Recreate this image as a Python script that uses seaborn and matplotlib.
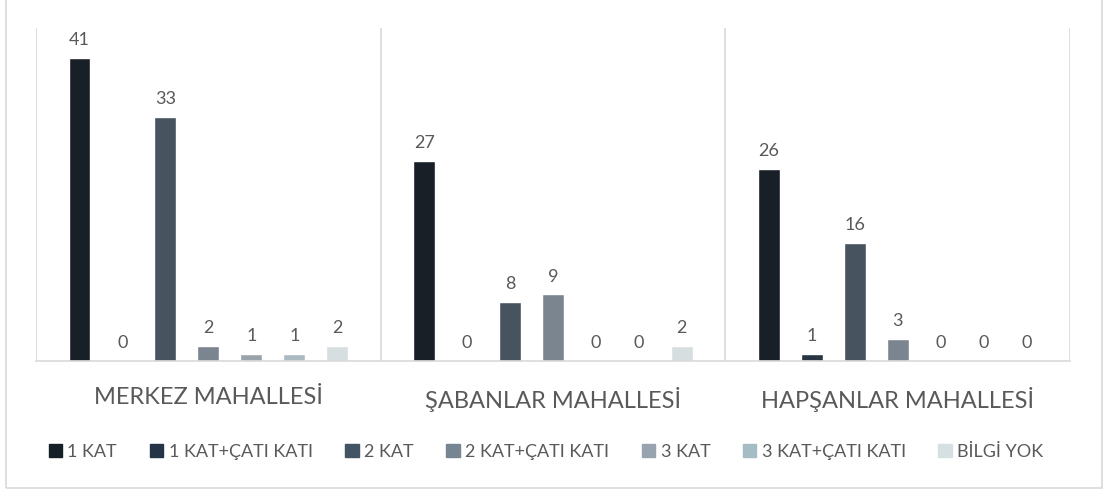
import seaborn as sns
import pandas as pd
import matplotlib.pyplot as plt
from matplotlib.patches import Rectangle

neighbourhoods = ["MERKEZ MAHALLESİ", "ŞABANLAR MAHALLESİ", "HAPŞANLAR MAHALLESİ"]
floor_types = ["1 KAT", "1 KAT+ÇATI KATI", "2 KAT", "2 KAT+ÇATI KATI", "3 KAT", "3 KAT+ÇATI KATI", "BİLGİ YOK"]
counts_merkez = [41, 0, 33, 2, 1, 1, 2]
counts_sabanlar = [27, 0, 8, 9, 0, 0, 2]
counts_hapsanlar = [26, 1, 16, 3, 0, 0, 0]
colors = ["#161f28", "#253547", "#435464", "#778593", "#97a3ae", "#a6bcc4", "#d6dfe1"]

rows = []
for hood, vals in zip(neighbourhoods, [counts_merkez, counts_sabanlar, counts_hapsanlar]):
    for ft, v in zip(floor_types, vals):
        rows.append({"mahalle": hood, "kat": ft, "sayi": v})
df = pd.DataFrame(rows)

sns.set_style("white")
plt.rcParams['font.family'] = ['Lato', 'DejaVu Sans']

fig = plt.figure(figsize=(11.03, 4.9), dpi=100)
ax = fig.add_axes([36/1103, 1 - 361/490, (1070 - 36)/1103, (361 - 28)/490])

sns.barplot(data=df, x="mahalle", y="sayi", hue="kat", hue_order=floor_types,
            palette=colors, width=0.872, gap=0.49, ax=ax, legend=False)

for cont in ax.containers:
    ax.bar_label(cont, padding=7, fontsize=13, color="#595959")

ax.set_ylim(0, 45)
ax.set_xlim(-0.5, 2.5)
ax.set_yticks([])
ax.set_xlabel("")
ax.set_ylabel("")
ax.tick_params(axis="x", length=0, pad=19, labelsize=17, labelcolor="#595959")
for x in [-0.5, 0.5, 1.5, 2.5]:
    ax.axvline(x, color="#d9d9d9", lw=1.2, zorder=0)
for s in ["top", "left", "right"]:
    ax.spines[s].set_visible(False)
ax.spines["bottom"].set_color("#d9d9d9")
ax.spines["bottom"].set_linewidth(1.2)

handles = [Rectangle((0, 0), 1, 1, color=c) for c in colors]
fig.legend(handles, floor_types, loc="center", bbox_to_anchor=(546/1103, 1 - 452/490),
           ncol=7, frameon=False, fontsize=13, handlelength=0.75, handleheight=0.75,
           handletextpad=0.3, columnspacing=1.8, labelcolor="#595959")

fig.patches.append(Rectangle((6/1103, 1 - 488/490), (1102 - 6)/1103, 1.1, transform=fig.transFigure,
                             fill=False, edgecolor="#d9d9d9", lw=1.2))

plt.savefig("out.png", dpi=100)
